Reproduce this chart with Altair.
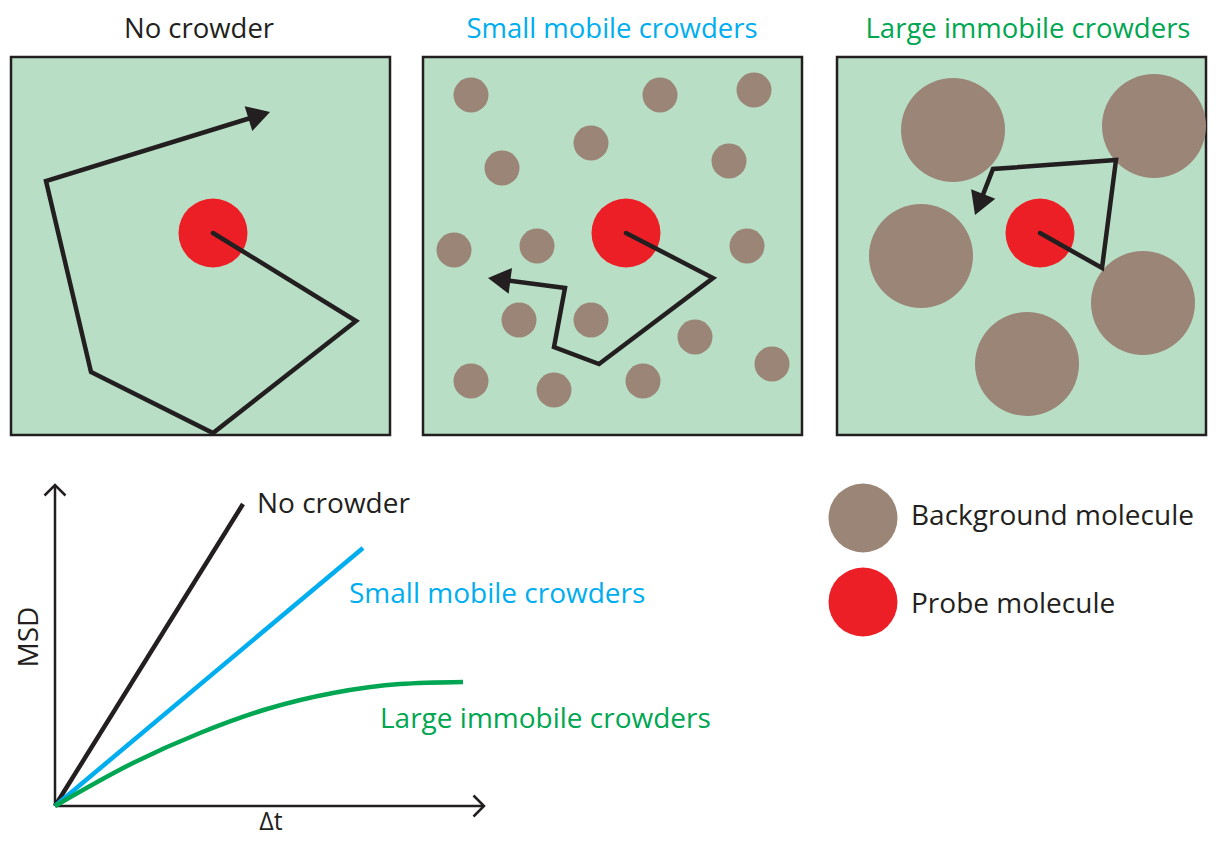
import math
import altair as alt
import pandas as pd

# ---------------- data (reference pixel coordinates) ----------------
panel_titles = ["No crowder", "Small mobile crowders", "Large immobile crowders"]
panel_title_x = [199, 612, 1028]
panel_title_y = [37.5, 37.5, 37.5]
panel_left = [11, 423, 837]
panel_right = [390, 802, 1206]
panel_top = [57, 57, 57]
panel_bottom = [435, 435, 435]

probe_x = [213, 626, 1040]
probe_y = [233, 233, 233]

small_x = [471, 660, 754, 591, 502, 729, 454, 537, 747, 519, 591, 695, 772, 471, 554, 643]
small_y = [95, 95, 90, 143, 168, 161, 250, 246, 246, 320, 320, 337, 364, 381, 390, 381]

large_x = [953, 1154, 921, 1143, 1027]
large_y = [130, 126, 256, 303, 364]

path1_x = [213, 356, 213, 91, 46, 270]
path1_y = [233, 321, 433, 372, 181, 112]
path2_x = [626, 713, 599, 554, 565, 488]
path2_y = [233, 278, 364, 347, 288, 278]
path3_x = [1040, 1102, 1116, 993, 975]
path3_y = [233, 268, 160, 169, 215]

# MSD sketch
axis_origin = (55, 806)
yaxis_tip = (55, 485)
xaxis_tip = (484, 806)
black_x = [55, 243]
black_y = [806, 504]
blue_x = [55, 363]
blue_y = [806, 548]
green_x = [55, 133, 200, 267, 333, 400, 463]
green_y = [806, 763, 733, 709, 693, 684, 682]

curve_labels = ["No crowder", "Small mobile crowders", "Large immobile crowders"]
curve_label_x = [257, 349, 380]
curve_label_y = [513, 603, 728]

legend_labels = ["Background molecule", "Probe molecule"]
legend_x = [863, 863]
legend_y = [518, 602]
legend_text_x = [911, 911]
legend_text_y = [525, 613]

# ---------------- styles ----------------
BG_GREEN = "#B8DFC5"
BROWN = "#9B8577"
RED = "#ED1F26"
DARK = "#231F20"
CYAN = "#00AEEF"
GREEN = "#00A651"
FONT = "Open Sans"
FS = 28

D_SMALL, D_LARGE, D_PROBE = 35, 104, 69
ARROW_W = 26

# page pixel x = data x ; page pixel y = data y  (page margin is 8 px)
XS = alt.Scale(domain=[8, 1208], nice=False, zero=False)
YS = alt.Scale(domain=[8, 837], reverse=True, nice=False, zero=False)


def X(f="x"):
    return alt.X(f"{f}:Q", scale=XS, axis=None)


def Y(f="y"):
    return alt.Y(f"{f}:Q", scale=YS, axis=None)


layers = []

# panels
panels = pd.DataFrame({"x": panel_left, "x2": panel_right, "y": panel_top, "y2": panel_bottom})
layers.append(
    alt.Chart(panels).mark_rect(fill=BG_GREEN, stroke=DARK, strokeWidth=2.5).encode(
        x=X(), x2="x2:Q", y=Y(), y2="y2:Q"
    )
)


def circles(xs, ys, d, color):
    df = pd.DataFrame({"x": xs, "y": ys})
    return alt.Chart(df).mark_circle(size=d * d, color=color, opacity=1).encode(x=X(), y=Y())


layers.append(circles(small_x, small_y, D_SMALL, BROWN))
layers.append(circles(large_x, large_y, D_LARGE, BROWN))
layers.append(circles(probe_x, probe_y, D_PROBE, RED))

# trajectories with arrowheads
h = math.sqrt(3) * (ARROW_W / 2) / 2  # half height of the triangle symbol
heads = []
for k, (px, py) in enumerate([(path1_x, path1_y), (path2_x, path2_y), (path3_x, path3_y)]):
    tx, ty = px[-1], py[-1]
    dx, dy = tx - px[-2], ty - py[-2]
    L = math.hypot(dx, dy)
    ux, uy = dx / L, dy / L
    bx, by = tx - ux * (2 * h - 3), ty - uy * (2 * h - 3)
    lx = list(px[:-1]) + [bx]
    ly = list(py[:-1]) + [by]
    df = pd.DataFrame({"x": lx, "y": ly, "i": range(len(lx))})
    layers.append(
        alt.Chart(df).mark_line(color=DARK, strokeWidth=4.5, strokeJoin="miter", strokeCap="round").encode(
            x=X(), y=Y(), order="i:Q"
        )
    )
    ang = math.degrees(math.atan2(ux, -uy)) % 360
    heads.append({"x": tx - ux * h, "y": ty - uy * h, "angle": ang})

layers.append(
    alt.Chart(pd.DataFrame(heads)).mark_point(
        shape="triangle-up", filled=True, size=ARROW_W * ARROW_W, color=DARK, opacity=1
    ).encode(x=X(), y=Y(), angle=alt.Angle("angle:Q", scale=None))
)

# MSD axes
axes = pd.DataFrame({
    "x": [axis_origin[0], axis_origin[0]],
    "y": [axis_origin[1], axis_origin[1]],
    "x2": [yaxis_tip[0], xaxis_tip[0]],
    "y2": [yaxis_tip[1], xaxis_tip[1]],
})
layers.append(
    alt.Chart(axes).mark_rule(color=DARK, strokeWidth=2.5).encode(x=X(), y=Y(), x2="x2:Q", y2="y2:Q")
)
tips = pd.DataFrame({"x": [yaxis_tip[0], xaxis_tip[0]], "y": [yaxis_tip[1], xaxis_tip[1]], "angle": [0, 90]})
layers.append(
    alt.Chart(tips).mark_point(
        shape="M-1,1L0,0L1,1", filled=False, size=441, color=DARK, strokeWidth=2.5,
        strokeJoin="miter", opacity=1
    ).encode(x=X(), y=Y(), angle=alt.Angle("angle:Q", scale=None))
)


def curve(xs, ys, color, interp="linear"):
    df = pd.DataFrame({"x": xs, "y": ys, "i": range(len(xs))})
    return alt.Chart(df).mark_line(color=color, strokeWidth=4.5, strokeCap="butt", interpolate=interp).encode(
        x=X(), y=Y(), order="i:Q"
    )


layers.append(curve(black_x, black_y, DARK))
layers.append(curve(blue_x, blue_y, CYAN))
layers.append(curve(green_x, green_y, GREEN, "monotone"))

# legend circles
layers.append(circles(legend_x[:1], legend_y[:1], D_PROBE, BROWN))
layers.append(circles(legend_x[1:], legend_y[1:], D_PROBE, RED))


def text(xs, ys, labels, color, align="left", angle=0, size=FS):
    df = pd.DataFrame({"x": xs, "y": ys, "t": labels})
    return alt.Chart(df).mark_text(
        font=FONT, fontSize=size, align=align, baseline="alphabetic", color=color, angle=angle
    ).encode(x=X(), y=Y(), text="t:N")


title_colors = [DARK, CYAN, GREEN]
for i in range(3):
    layers.append(text([panel_title_x[i]], [panel_title_y[i]], [panel_titles[i]], title_colors[i], "center",
                       size=27.5))
    layers.append(text([curve_label_x[i]], [curve_label_y[i]], [curve_labels[i]], title_colors[i]))

layers.append(text(legend_text_x, legend_text_y, legend_labels, DARK))
layers.append(text([38], [637], ["MSD"], DARK, "center", 270))
layers.append(text([271], [829.5], ["Δt"], DARK, "center", size=25))

chart = alt.layer(*layers).properties(
    width=1200, height=829, padding=0, autosize=alt.AutoSizeParams(type="none"), background="white"
).configure_view(stroke=None)

chart.save("out.html", embed_options={"renderer": "svg", "actions": False})
